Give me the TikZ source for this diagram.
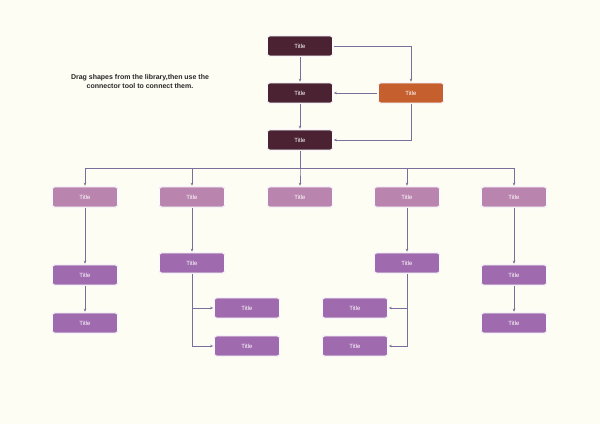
\documentclass[tikz,border=0pt]{standalone}
\usepackage{fontspec}
\setmainfont{Liberation Sans}
\usetikzlibrary{arrows.meta}
\definecolor{bg}{HTML}{FEFDF3}
\definecolor{dk}{HTML}{4A2232}
\definecolor{org}{HTML}{C55F2E}
\definecolor{lm}{HTML}{B984AE}
\definecolor{pm}{HTML}{A06AAE}
\definecolor{ln}{HTML}{7C6E9C}
\tikzset{
 box/.style={rectangle,rounded corners=3pt,minimum width=66pt,minimum height=21pt,draw=white,line width=1.6pt,text=white,font=\fontsize{6}{7}\selectfont,
   postaction={draw=black!12,line width=0.4pt,rounded corners=4pt}},
 conn/.style={draw=ln,line width=0.5pt,-{Stealth[length=3pt,width=2.5pt]}},
}
\begin{document}
\begin{tikzpicture}[x=1pt,y=-1pt]
\fill[bg] (0,0) rectangle (600,424);
\useasboundingbox (0,0) rectangle (600,424);
\node[font=\bfseries\fontsize{7}{9}\selectfont,align=center,text=black!85] (txt) at (140,81) {Drag shapes from the library,then use the\\connector tool to connect them.};
\node[box,fill=dk] (t1) at (300,46) {Title};
\node[box,fill=dk] (t2) at (300,93) {Title};
\node[box,fill=org] (o) at (411,93) {Title};
\node[box,fill=dk] (t3) at (300,140) {Title};
\foreach \n/\x in {a1/85,b1/192,c1/300,d1/407,e1/514}{\node[box,fill=lm] (\n) at (\x,197) {Title};}
\node[box,fill=pm] (a2) at (85,275) {Title};
\node[box,fill=pm] (b2) at (192,263) {Title};
\node[box,fill=pm] (d2) at (407,263) {Title};
\node[box,fill=pm] (e2) at (514,275) {Title};
\node[box,fill=pm] (a3) at (85,323) {Title};
\node[box,fill=pm] (e3) at (514,323) {Title};
\node[box,fill=pm] (b3) at (247,308) {Title};
\node[box,fill=pm] (b4) at (247,346) {Title};
\node[box,fill=pm] (d3) at (355,308) {Title};
\node[box,fill=pm] (d4) at (355,346) {Title};
\draw[conn] (t1) -- (t2);
\draw[conn] (t2) -- (t3);
\draw[conn] (t1.east) -| (o.north);
\draw[conn] (o.west) -- (t2.east);
\draw[conn] (o.south) |- (t3.east);
\coordinate (bus) at (300,168);
\foreach \n in {a1,b1,c1,d1,e1}{\draw[conn] (t3.south) -- (bus) -| (\n.north);}
\draw[conn] (a1) -- (a2);
\draw[conn] (a2) -- (a3);
\draw[conn] (b1) -- (b2);
\draw[conn] (d1) -- (d2);
\draw[conn] (e1) -- (e2);
\draw[conn] (e2) -- (e3);
\draw[conn] (b2.south) |- (b3.west);
\draw[conn] (b2.south) |- (b4.west);
\draw[conn] (d2.south) |- (d3.east);
\draw[conn] (d2.south) |- (d4.east);
\end{tikzpicture}
\end{document}
